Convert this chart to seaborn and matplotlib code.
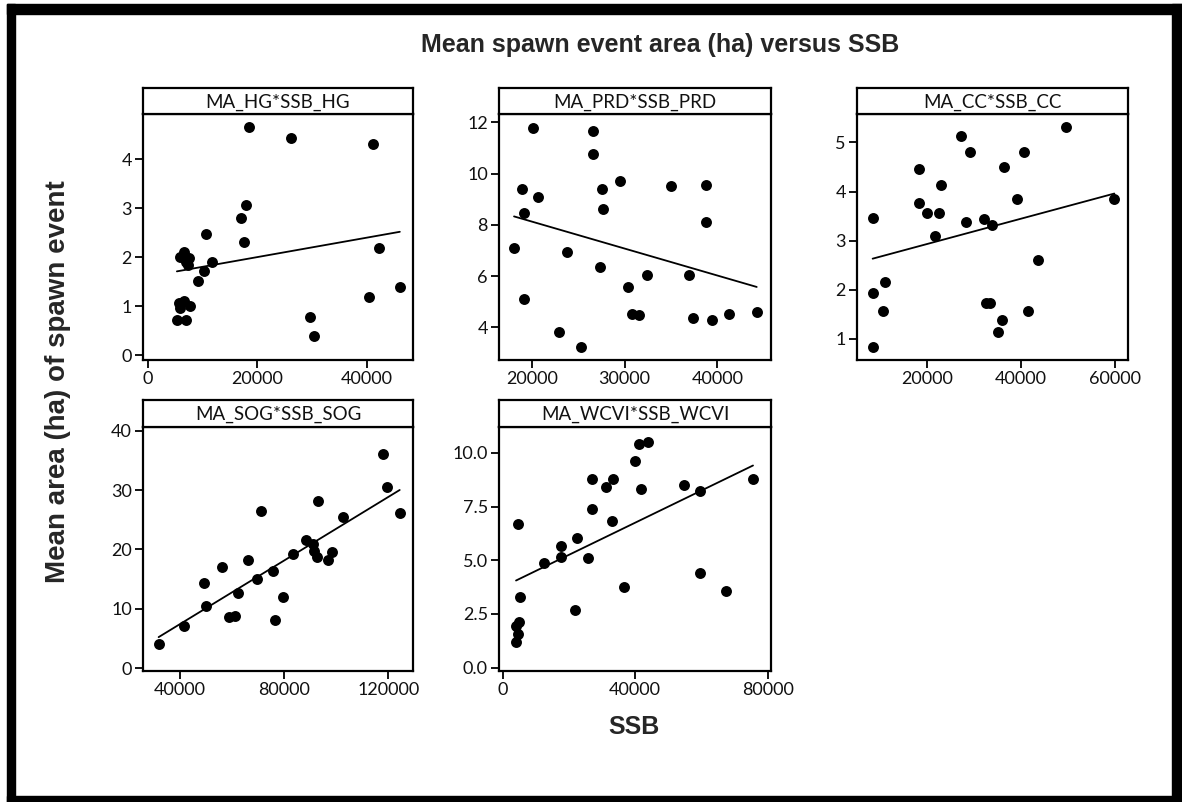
import matplotlib
matplotlib.use("Agg")
import matplotlib.pyplot as plt
import seaborn as sns
import pandas as pd
from matplotlib.patches import Rectangle

# ---------------- data ----------------
hg_ssb = [18570, 26240, 41220, 17960, 16990, 10650, 17660, 42310,
          5900, 6600, 7000, 7600, 7250, 11810, 10230, 9130,
          5720, 6640, 7730, 5900, 5300, 6880, 29650, 30380, 40370, 46090]
hg_ma = [4.66, 4.44, 4.31, 3.06, 2.81, 2.48, 2.31, 2.18,
         2.01, 2.10, 1.90, 1.98, 1.84, 1.90, 1.73, 1.52,
         1.06, 1.11, 1.01, 0.96, 0.72, 0.72, 0.77, 0.40, 1.18, 1.39]

prd_ssb = [20110, 26640, 26640, 29520, 18990, 27580, 34970, 38740, 20720,
           27720, 19210, 38740, 18100, 23770, 27360, 32390, 36980, 30410,
           19210, 30770, 31560, 37410, 39430, 41220, 44240, 22940, 25310]
prd_ma = [11.80, 11.65, 10.76, 9.72, 9.41, 9.41, 9.50, 9.56, 9.08,
          8.61, 8.46, 8.13, 7.09, 6.93, 6.37, 6.05, 6.05, 5.56,
          5.09, 4.52, 4.46, 4.38, 4.29, 4.53, 4.61, 3.80, 3.24]

cc_ssb = [49540, 27280, 29050, 40710, 36470, 18370, 23040, 39080, 59790,
          18370, 20000, 22610, 8480, 28270, 32160, 33920, 21630, 43670,
          11020, 8480, 10600, 32580, 33290, 41550, 36040, 35050, 8480]
cc_ma = [5.31, 5.14, 4.80, 4.80, 4.50, 4.47, 4.14, 3.85, 3.85,
         3.76, 3.56, 3.56, 3.47, 3.39, 3.44, 3.31, 3.10, 2.60,
         2.15, 1.93, 1.56, 1.73, 1.73, 1.56, 1.39, 1.14, 0.84]

sog_ssb = [117950, 119490, 124350, 93040, 71050, 102620, 88180, 91000, 91500,
           92400, 98400, 96870, 83450, 66200, 75530, 69390, 56230, 49200,
           49970, 62360, 79620, 58910, 61090, 76420, 41280, 31690]
sog_ma = [36.07, 30.56, 26.07, 28.09, 26.40, 25.39, 21.52, 20.90, 19.66,
          18.80, 19.60, 18.15, 19.21, 18.15, 16.40, 15.06, 17.13, 14.33,
          10.56, 12.64, 11.97, 8.60, 8.88, 8.15, 7.19, 4.04]

wcvi_ssb = [43730, 41010, 40000, 26900, 33250, 31130, 41710, 54610, 59450,
            75570, 26900, 32950, 4740, 22570, 17630, 17630, 12600, 25890,
            36680, 59450, 67510, 21860, 5240, 5040, 4030, 4530, 4030]
wcvi_ma = [10.51, 10.42, 9.64, 8.79, 8.79, 8.41, 8.32, 8.49, 8.21,
           8.79, 7.39, 6.81, 6.70, 6.03, 5.65, 5.15, 4.87, 5.10,
           3.75, 4.40, 3.55, 2.69, 3.28, 2.12, 1.96, 1.56, 1.17]

panel_titles = ["MA_HG*SSB_HG", "MA_PRD*SSB_PRD", "MA_CC*SSB_CC",
                "MA_SOG*SSB_SOG", "MA_WCVI*SSB_WCVI"]
xticks = [[0, 20000, 40000], [20000, 30000, 40000], [20000, 40000, 60000],
          [40000, 80000, 120000], [0, 40000, 80000]]
yticks = [[0, 1, 2, 3, 4], [4, 6, 8, 10, 12], [1, 2, 3, 4, 5],
          [0, 10, 20, 30, 40], [0.0, 2.5, 5.0, 7.5, 10.0]]
xlims = [(-900, 48500), (16480, 45780), (5160, 62690), (25690, 129460), (-1110, 81000)]
ylims = [(-0.10, 4.93), (2.72, 12.33), (0.57, 5.58), (-0.45, 40.6), (-0.16, 11.21)]

series = [(hg_ssb, hg_ma), (prd_ssb, prd_ma), (cc_ssb, cc_ma),
          (sog_ssb, sog_ma), (wcvi_ssb, wcvi_ma)]

# ---------------- layout (pixels of a 1182x802 canvas) ----------------
W, H = 1182, 802
cols = [(143, 413), (499, 771), (857, 1128)]
rows = [(88, 114, 360), (400, 427, 671)]   # strip top, strip bottom / plot top, plot bottom


def rect(x0, x1, y0, y1):
    return [x0 / W, 1 - y1 / H, (x1 - x0) / W, (y1 - y0) / H]


sns.set_theme(style="white")
plt.rcParams["font.family"] = ["Lato", "DejaVu Sans"]
bold_font = ["Liberation Sans", "DejaVu Sans"]

fig = plt.figure(figsize=(W / 100, H / 100), dpi=100)
fig.patch.set_facecolor("white")

for i, (xs, ys) in enumerate(series):
    r, c = divmod(i, 3)
    x0, x1 = cols[c]
    st, sb, pb = rows[r]

    ax = fig.add_axes(rect(x0, x1, sb, pb))
    df = pd.DataFrame({"SSB": xs, "MA": ys})
    sns.regplot(data=df, x="SSB", y="MA", ax=ax, ci=None, color="black",
                scatter_kws={"s": 62, "linewidths": 0, "alpha": 1},
                line_kws={"linewidth": 1.3})
    ax.set_xlim(*xlims[i])
    ax.set_ylim(*ylims[i])
    ax.set_xticks(xticks[i])
    ax.set_yticks(yticks[i])
    if i == 4:
        ax.set_yticklabels([f"{v:.1f}" for v in yticks[i]])
    else:
        ax.set_yticklabels([str(v) for v in yticks[i]])
    ax.set_xticklabels([str(v) for v in xticks[i]])
    ax.set_xlabel("")
    ax.set_ylabel("")
    ax.tick_params(axis="both", direction="out", length=6, width=1.3,
                   color="black", labelsize=13, labelcolor="#111111", pad=2,
                   bottom=True, left=True)
    for sp in ax.spines.values():
        sp.set_color("black")
        sp.set_linewidth(1.6)

    # strip header box
    sax = fig.add_axes(rect(x0, x1, st, sb))
    sax.set_xticks([])
    sax.set_yticks([])
    for sp in sax.spines.values():
        sp.set_color("black")
        sp.set_linewidth(1.6)
    sax.text(0.5, 0.45, panel_titles[i], ha="center", va="center",
             fontsize=13.5, color="#111111", transform=sax.transAxes)

fig.text(660 / W, 1 - 45 / H, "Mean spawn event area (ha) versus SSB",
         ha="center", va="center", fontsize=18, fontweight="bold", family=bold_font)
fig.text(58 / W, 1 - 382 / H, "Mean area (ha) of spawn event",
         ha="center", va="center", rotation=90, fontsize=20, fontweight="bold",
         family=bold_font)
fig.text(634 / W, 1 - 727 / H, "SSB", ha="center", va="center",
         fontsize=18, fontweight="bold", family=bold_font)

# outer black frame
for (x0, x1, y0, y1) in [(7, 15, 4, 802), (7, W, 4, 14), (7, W, 796, 802), (1172, W, 4, 802)]:
    fig.patches.append(Rectangle((x0 / W, 1 - y1 / H), (x1 - x0) / W, (y1 - y0) / H,
                                 transform=fig.transFigure, color="black", zorder=10))

fig.savefig("out.png", dpi=100)
